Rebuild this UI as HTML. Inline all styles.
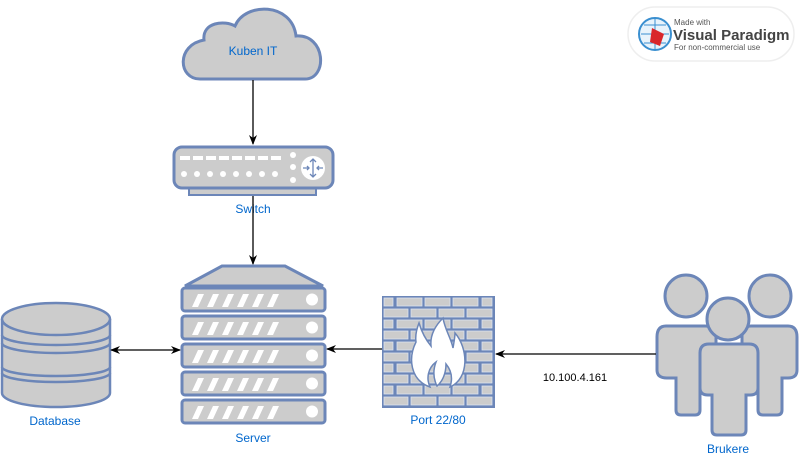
<!DOCTYPE html>
<html><head><meta charset="utf-8"><style>
html,body{margin:0;padding:0;background:#fff;}
svg{display:block;}
text{font-family:"Liberation Sans",sans-serif;}
</style></head><body>
<svg width="801" height="456" viewBox="0 0 801 456" xmlns="http://www.w3.org/2000/svg">
<defs>
<marker id="ah" markerWidth="10" markerHeight="10" refX="9" refY="5" orient="auto" markerUnits="userSpaceOnUse">
<path d="M0,1 L10,5 L0,9 L3,5 Z" fill="#000"/></marker>
</defs>
<g fill="#cccccc" stroke="#6c86b8" stroke-width="3">
<path d="M200,79 C178,79 176,45 204,40 C202,22 225,20 235,26 C245,2 292,2 296,36 C326,34 328,79 305,79 Z"/>
<rect x="189" y="186" width="127" height="9" stroke-width="2"/>
<rect x="174" y="147" width="159" height="41" rx="8"/>
</g>
<text x="253" y="55" font-size="12" fill="#0066cc" text-anchor="middle">Kuben IT</text>
<g fill="#fff">
<rect x="180" y="156" width="10" height="4"/><rect x="193" y="156" width="10" height="4"/><rect x="206" y="156" width="10" height="4"/><rect x="219" y="156" width="10" height="4"/><rect x="232" y="156" width="10" height="4"/><rect x="245" y="156" width="10" height="4"/><rect x="258" y="156" width="10" height="4"/><rect x="271" y="156" width="10" height="4"/>
<circle cx="184" cy="174" r="3"/><circle cx="197" cy="174" r="3"/><circle cx="210" cy="174" r="3"/><circle cx="223" cy="174" r="3"/><circle cx="236" cy="174" r="3"/><circle cx="249" cy="174" r="3"/><circle cx="262" cy="174" r="3"/><circle cx="275" cy="174" r="3"/>
<circle cx="293" cy="155" r="3"/><circle cx="293" cy="167" r="3"/><circle cx="293" cy="180" r="3"/>
<circle cx="313" cy="168" r="12"/>
</g>
<g stroke="#6c86b8" stroke-width="1.3" fill="none"><path d="M313,159 V177 M310,162 L313,159 L316,162 M310,174 L313,177 L316,174 M303,168 H309 M307,166 L309,168 L307,170 M323,168 H317 M319,166 L317,168 L319,170"/></g>
<text x="253" y="213" font-size="12" fill="#0066cc" text-anchor="middle">Switch</text>
<g fill="#cccccc" stroke="#6c86b8" stroke-width="3">
<path d="M185,286 L222,266 L285,266 L323,286 Z"/>
<rect x="182" y="288" width="143" height="23" rx="3"/>
<rect x="182" y="316" width="143" height="23" rx="3"/>
<rect x="182" y="344" width="143" height="23" rx="3"/>
<rect x="182" y="372" width="143" height="23" rx="3"/>
<rect x="182" y="400" width="143" height="23" rx="3"/>
</g>
<g fill="#fff">
<g id="sv"><path d="M192,307 L198,294 L204,294 L198,307Z M207,307 L213,294 L219,294 L213,307Z M222,307 L228,294 L234,294 L228,307Z M237,307 L243,294 L249,294 L243,307Z M252,307 L258,294 L264,294 L258,307Z M267,307 L273,294 L279,294 L273,307Z"/><circle cx="312" cy="299.5" r="6"/></g>
<use href="#sv" y="28"/><use href="#sv" y="56"/><use href="#sv" y="84"/><use href="#sv" y="112"/>
</g>
<text x="253" y="442" font-size="12" fill="#0066cc" text-anchor="middle">Server</text>
<rect x="382" y="296" width="113" height="112" fill="#6c86b8"/>
<g fill="#cccccc" stroke="#dde3ee" stroke-width="0.8">
<g id="r1"><rect x="384" y="298" width="9" height="8"/><rect x="397" y="298" width="25" height="8"/><rect x="425" y="298" width="25" height="8"/><rect x="453" y="298" width="25" height="8"/><rect x="482" y="298" width="10" height="8"/></g>
<g id="r2"><rect x="384" y="309" width="24" height="8"/><rect x="411" y="309" width="25" height="8"/><rect x="439" y="309" width="25" height="8"/><rect x="467" y="309" width="25" height="8"/></g>
<use href="#r1" y="22"/><use href="#r2" y="22"/><use href="#r1" y="44"/><use href="#r2" y="44"/><use href="#r1" y="66"/><use href="#r2" y="66"/><use href="#r1" y="88"/><use href="#r2" y="88"/>
</g>
<path d="M430,387 C410,380 408,358 416,342 C415,335 417,328 419,323 C422,333 426,340 431,346 C430,336 434,327 443,318 C445,330 451,338 453,348 C454,342 455,337 455,333 C468,348 470,378 450,387 C453,378 451,370 446,364 C446,374 442,382 437,386 C433,378 433,370 436,362 C428,368 426,378 430,387 Z" fill="#fff" stroke="#6c86b8" stroke-width="1.5"/>
<text x="438" y="424" font-size="12" fill="#0066cc" text-anchor="middle">Port 22/80</text>
<g fill="#cccccc" stroke="#6c86b8" stroke-width="2.5">
<path d="M2,319 V393 A54,14 0 0 0 110,393 V319"/>
<ellipse cx="56" cy="319" rx="54" ry="16"/>
<path d="M2,335 A54,10 0 0 0 110,335 M2,343 A54,10 0 0 0 110,343 M2,367 A54,9 0 0 0 110,367 M2,373 A54,9 0 0 0 110,373" fill="none"/>
</g>
<text x="55" y="425" font-size="12" fill="#0066cc" text-anchor="middle">Database</text>
<g fill="#cccccc" stroke="#6c86b8" stroke-width="3">
<circle cx="686" cy="296" r="21"/>
<path d="M666,326 H705 Q716,326 716,337 V370 Q716,378 707,378 H700 V410 Q700,415 695,415 H681 Q676,415 676,410 V378 H667 Q657,378 657,370 V337 Q657,326 666,326 Z"/>
<circle cx="770" cy="296" r="21"/>
<path d="M751,326 H788 Q797,326 797,337 V370 Q797,378 788,378 H782 V410 Q782,415 777,415 H763 Q758,415 758,410 V378 H751 Q742,378 742,370 V337 Q742,326 751,326 Z"/>
<circle cx="728" cy="319" r="21"/>
<path d="M709,344 H749 Q758,344 758,353 V388 Q758,395 750,395 H746 V430 Q746,435 741,435 H717 Q712,435 712,430 V395 H708 Q700,395 700,388 V353 Q700,344 709,344 Z"/>
</g>
<text x="728" y="453" font-size="12" fill="#0066cc" text-anchor="middle">Brukere</text>
<g stroke="#000" stroke-width="1.3" fill="none">
<line x1="253" y1="80" x2="253" y2="144" marker-end="url(#ah)"/>
<line x1="253" y1="196" x2="253" y2="264" marker-end="url(#ah)"/>
<line x1="145" y1="350" x2="111" y2="350" marker-end="url(#ah)"/>
<line x1="145" y1="350" x2="180" y2="350" marker-end="url(#ah)"/>
<line x1="382" y1="349" x2="327" y2="349" marker-end="url(#ah)"/>
<line x1="656" y1="354" x2="496" y2="354" marker-end="url(#ah)"/>
</g>
<text x="575" y="381" font-size="11" fill="#000" text-anchor="middle">10.100.4.161</text>
<rect x="628" y="7" width="166" height="54" rx="27" fill="#fff" stroke="#eeeeee" stroke-width="1.5"/>
<circle cx="655" cy="34" r="16" fill="#e8f3fb" stroke="#3a8fd0" stroke-width="2"/>
<path d="M641,34 H669 M655,18 V50 M644,25 H666 M644,43 H666" stroke="#3a8fd0" stroke-width="1"/>
<path d="M652,28 L664,34 L660,46 L650,42 Z" fill="#d9262b"/>
<text x="674" y="25" font-size="8" fill="#555">Made with</text>
<text x="673" y="40" font-size="15" font-weight="bold" fill="#444">Visual Paradigm</text>
<text x="674" y="50" font-size="8" fill="#555">For non-commercial use</text>
</svg>
</body></html>
